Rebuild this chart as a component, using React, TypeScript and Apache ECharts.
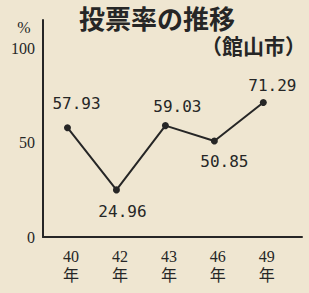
import React, { useEffect, useRef } from "react";
import * as echarts from "echarts";

const categories = ["40", "42", "43", "46", "49"];
const turnout = [57.93, 24.96, 59.03, 50.85, 71.29];
const labelAbove = [true, false, true, false, true];
const labelOffsets: [number, number][] = [
  [9, -8],
  [6, 5],
  [12, -3],
  [10, 4],
  [9, 0],
];
const yTicks = [0, 50, 100];

const BG = "#efe6d1";
const INK = "#262626";

export default function App() {
  const ref = useRef<HTMLDivElement>(null);
  useEffect(() => {
    if (!ref.current) return;
    const chart = echarts.init(ref.current, undefined, { renderer: "svg" });
    chart.setOption({
      animation: false,
      backgroundColor: BG,
      graphic: [
        {
          type: "text",
          x: 157,
          y: 17,
          style: {
            text: "投票率の推移",
            align: "center",
            verticalAlign: "middle",
            fontFamily: "Noto Sans CJK JP",
            fontWeight: "bold",
            fontSize: 26,
            lineHeight: 28,
            fill: INK,
          },
        },
        {
          type: "text",
          x: 306,
          y: 45,
          style: {
            text: "（館山市）",
            align: "right",
            verticalAlign: "middle",
            fontFamily: "Noto Sans CJK JP",
            fontWeight: "bold",
            fontSize: 21,
            fill: INK,
          },
        },
        {
          type: "text",
          x: 24,
          y: 27,
          style: {
            text: "%",
            align: "center",
            verticalAlign: "middle",
            fontFamily: "Liberation Serif",
            fontSize: 16,
            fill: INK,
          },
        },
      ],
      grid: { left: 43, right: 7, top: 20, bottom: 56 },
      xAxis: {
        type: "value",
        min: -0.5,
        max: 4.79,
        interval: 0.5,
        axisLine: { show: true, onZero: false, lineStyle: { color: INK, width: 2 } },
        axisTick: { show: false },
        splitLine: { show: false },
        axisLabel: {
          showMaxLabel: false,
          showMinLabel: false,
          margin: 10,
          padding: [0, 0, 0, 7],
          fontFamily: "Liberation Serif, Noto Sans CJK JP",
          fontSize: 16,
          lineHeight: 19,
          color: INK,
          formatter: (v: number) =>
            Number.isInteger(v) && categories[v] !== undefined
              ? categories[v] + "\n年"
              : "",
        },
      },
      yAxis: {
        type: "value",
        min: 0,
        max: 115,
        interval: 50,
        axisLine: { show: true, onZero: false, lineStyle: { color: INK, width: 2 } },
        axisTick: { show: false },
        splitLine: { show: false },
        axisLabel: {
          showMaxLabel: false,
          margin: 8,
          fontFamily: "Liberation Serif",
          fontSize: 16,
          color: INK,
          formatter: (v: number) => (yTicks.includes(v) ? String(v) : ""),
        },
      },
      series: [
        {
          type: "line",
          data: turnout.map((v, i) => ({
            value: [i, v],
            label: {
              position: labelAbove[i] ? "top" : "bottom",
              offset: labelOffsets[i],
            },
          })),
          symbol: "circle",
          symbolSize: 7,
          lineStyle: { color: INK, width: 2 },
          itemStyle: { color: INK },
          label: {
            show: true,
            fontFamily: "DejaVu Sans Mono",
            fontSize: 16,
            color: INK,
            distance: 5,
            formatter: (p: any) => Number(p.value[1]).toFixed(2),
          },
        },
      ],
    });
    return () => chart.dispose();
  }, []);
  return (
    <div
      ref={ref}
      style={{ width: 309, height: 293, position: "absolute", left: 0, top: 0 }}
    />
  );
}
